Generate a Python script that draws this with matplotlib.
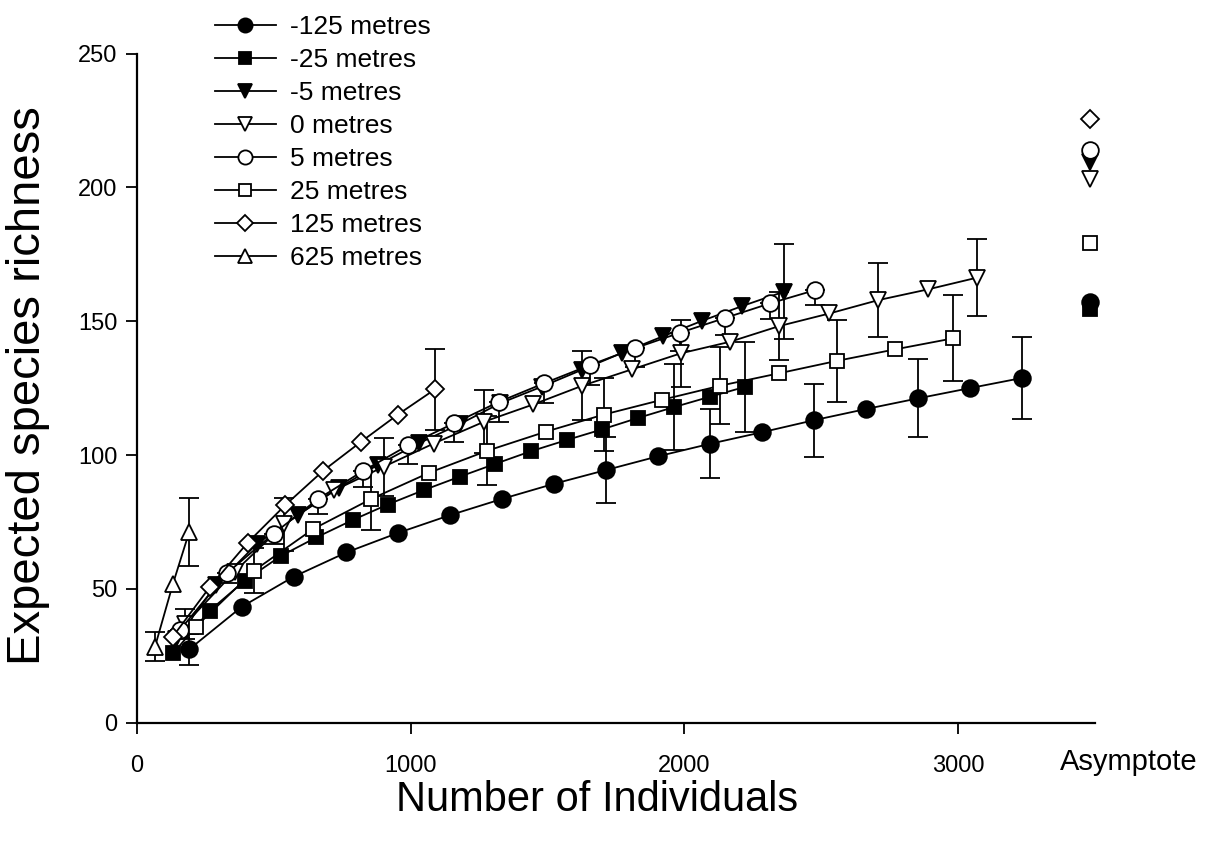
import numpy as np
import matplotlib.pyplot as plt

plt.rcParams['font.family'] = ['Liberation Sans', 'DejaVu Sans']

# rarefaction curves (x = individuals, y = expected species)
labels = ['-125 metres', '-25 metres', '-5 metres', '0 metres',
          '5 metres', '25 metres', '125 metres', '625 metres']

neg125_x = [191, 383, 572, 765, 954, 1143, 1334, 1522, 1714, 1903, 2094, 2283, 2473, 2664, 2855, 3043, 3234]
neg125_y = [27.4, 43.3, 54.5, 63.6, 70.9, 77.5, 83.6, 89.2, 94.4, 99.5, 104.2, 108.5, 113.0, 117.2, 121.2, 125.0, 128.8]
neg125_err = [5.9, None, None, None, None, None, None, None, 12.2, None, 12.9, None, 13.7, None, 14.5, None, 15.4]

neg25_x = [133, 265, 395, 526, 655, 788, 916, 1048, 1179, 1309, 1439, 1570, 1700, 1832, 1962, 2094, 2223]
neg25_y = [26.0, 41.8, 53.1, 62.3, 69.2, 75.7, 81.5, 86.9, 91.9, 96.7, 101.4, 105.6, 109.6, 113.9, 117.9, 121.8, 125.5]
neg25_err = [None] * 14 + [16.0, None, 16.9]

neg5_x = [143, 289, 437, 589, 737, 880, 1030, 1180, 1326, 1478, 1627, 1773, 1920, 2066, 2212, 2363]
neg5_y = [31.1, 51.4, 66.7, 77.6, 87.7, 96.3, 104.4, 111.6, 119.3, 125.5, 131.9, 138.2, 144.3, 150.2, 155.7, 161.0]
neg5_err = [None] * 15 + [17.7]

zero_x = [176, 357, 538, 721, 901, 1084, 1267, 1448, 1627, 1808, 1987, 2166, 2347, 2530, 2709, 2890, 3070]
zero_y = [36.8, 56.4, 74.1, 86.8, 95.6, 104.3, 112.4, 118.9, 125.9, 132.0, 138.0, 142.3, 148.2, 152.9, 157.9, 161.9, 166.3]
zero_err = [5.5, None, 9.8, None, 10.8, None, 11.8, None, 12.8, None, 12.5, None, 12.7, None, 13.7, None, 14.5]

pos5_x = [157, 328, 499, 662, 827, 992, 1157, 1323, 1487, 1655, 1819, 1984, 2148, 2314, 2477]
pos5_y = [34.6, 55.8, 70.6, 83.6, 94.1, 103.7, 111.8, 119.9, 126.8, 133.6, 139.9, 145.7, 151.2, 156.7, 161.6]
pos5_err_low = [3.0, 3.5, 3.7, 5.5, 6.2, 7.0, 7.0, 7.6, 7.5, 7.5, 7.0, 7.0, 6.4, 6.0, 5.6]

pos25_x = [214, 428, 643, 856, 1068, 1280, 1493, 1705, 1917, 2131, 2344, 2558, 2771, 2982]
pos25_y = [35.7, 56.8, 72.3, 83.6, 93.4, 101.6, 108.7, 115.1, 120.6, 125.9, 130.5, 135.2, 139.5, 143.6]
pos25_err = [None, 8.5, None, 11.8, None, 12.8, None, 13.5, None, 14.3, None, 15.3, None, 16.1]

pos125_x = [130, 267, 404, 542, 680, 818, 953, 1088]
pos125_y = [32.0, 50.8, 67.2, 81.3, 94.1, 104.9, 115.1, 124.5]
pos125_err = [None] * 7 + [15.1]

pos625_x = [66, 131, 191]
pos625_y = [28.4, 51.7, 71.3]
pos625_err = [5.5, None, 12.8]

# asymptotic richness, same order as labels (625 m has none)
asymptote = [157.0, 154.5, 209.6, 203.0, 214.0, 179.3, 225.6, None]
asym_x = 3480

xs = [neg125_x, neg25_x, neg5_x, zero_x, pos5_x, pos25_x, pos125_x, pos625_x]
ys = [neg125_y, neg25_y, neg5_y, zero_y, pos5_y, pos25_y, pos125_y, pos625_y]
errs = [neg125_err, neg25_err, neg5_err, zero_err, None, pos25_err, pos125_err, pos625_err]

markers = ['o', 's', 'v', 'v', 'o', 's', 'D', '^']
faces = ['black', 'black', 'black', 'white', 'white', 'white', 'white', 'white']
sizes = [12, 10.5, 12, 12, 12, 10, 9.5, 12]

fig = plt.figure(figsize=(12.11, 8.43), dpi=100)
ax = fig.add_axes([0.1131, 0.1428, 0.7911, 0.7936])

lw = 1.3
for i in range(len(labels)):
    x = np.array(xs[i], dtype=float)
    y = np.array(ys[i], dtype=float)
    ax.plot(x, y, marker=markers[i], ms=sizes[i], mfc=faces[i], mec='black',
            mew=lw, color='black', lw=lw, label=labels[i], zorder=3)
    if errs[i] is not None:
        e = np.array([np.nan if v is None else v for v in errs[i]])
        ok = ~np.isnan(e)
        ax.errorbar(x[ok], y[ok], yerr=e[ok], fmt='none', ecolor='black',
                    elinewidth=lw, capsize=7.5, capthick=lw, zorder=2)
    if asymptote[i] is not None:
        ax.plot([asym_x], [asymptote[i]], marker=markers[i], ms=sizes[i],
                mfc=faces[i], mec='black', mew=lw, ls='none', zorder=3,
                clip_on=False)

# 5 m curve only has the lower half of its bars
low = np.array(pos5_err_low)
ax.errorbar(pos5_x, pos5_y, yerr=[low, np.zeros_like(low)], fmt='none',
            ecolor='black', elinewidth=lw, capsize=7.5, capthick=lw, zorder=2)

ax.set_xlim(0, 3500)
ax.set_ylim(0, 250)
ax.set_xticks([0, 1000, 2000, 3000])
ax.set_yticks([0, 50, 100, 150, 200, 250])
ax.spines['top'].set_visible(False)
ax.spines['right'].set_visible(False)
for s in ['left', 'bottom']:
    ax.spines[s].set_linewidth(1.6)
ax.tick_params(axis='both', direction='out', length=8, width=1.3, labelsize=17)
ax.tick_params(axis='x', pad=15)
ax.tick_params(axis='y', pad=6)

fig.text(597 / 1211, 1 - 800 / 843, 'Number of Individuals', fontsize=30,
         ha='center', va='center')
fig.text(28 / 1211, 1 - 386 / 843, 'Expected species richness', fontsize=34,
         rotation=90, ha='center', va='center')
fig.text(1129 / 1211, 1 - 762 / 843, 'Asymptote', fontsize=21,
         ha='center', va='center')

ax.legend(loc='upper left', bbox_to_anchor=(0.1775, 0.982),
          bbox_transform=fig.transFigure, frameon=False, fontsize=19,
          handlelength=2.3, handletextpad=0.55, labelspacing=0.34,
          borderpad=0, borderaxespad=0, markerscale=0.85)

fig.savefig('out.png', dpi=100)
